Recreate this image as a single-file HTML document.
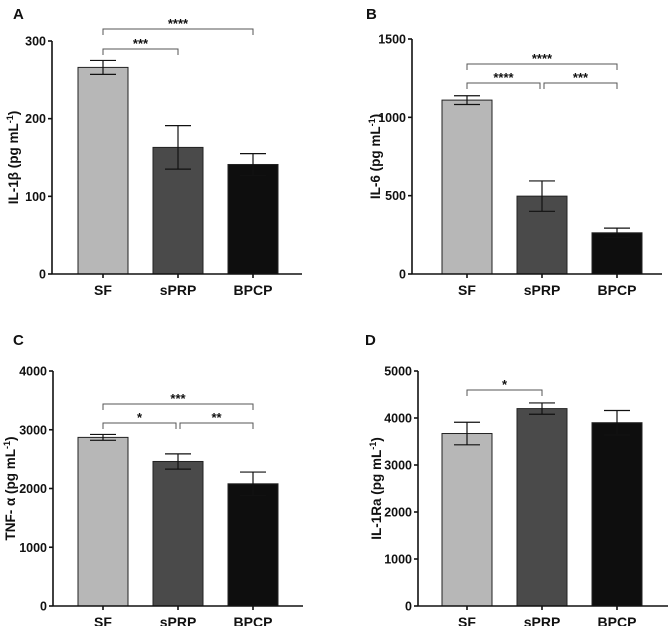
<!DOCTYPE html>
<html><head><meta charset="utf-8">
<style>
html,body{margin:0;padding:0;background:#fff;}
svg{display:block;font-family:"Liberation Sans",sans-serif;font-weight:bold;}
</style></head>
<body>
<svg id="fig" width="669" height="626" viewBox="0 0 669 626"></svg>
<script>
const categories = ["SF","sPRP","BPCP"];
const colors = ["#b7b7b7","#4a4a4a","#0e0e0e"];
const aValues = [266,163,141];
const aErrors = [9,28,14];
const aTicks = [0,100,200,300];
const bValues = [1110,497,263];
const bErrors = [28,97,30];
const bTicks = [0,500,1000,1500];
const cValues = [2870,2460,2080];
const cErrors = [50,130,200];
const cTicks = [0,1000,2000,3000,4000];
const dValues = [3670,4200,3900];
const dErrors = [240,120,260];
const dTicks = [0,1000,2000,3000,4000,5000];
const aSig = [[0,1,"***",1],[0,2,"****",0]];
const bSig = [[0,1,"****",1],[1,2,"***",1],[0,2,"****",0]];
const cSig = [[0,1,"*",1],[1,2,"**",1],[0,2,"***",0]];
const dSig = [[0,1,"*",0]];

const svg = document.getElementById('fig');
const NS = "http://www.w3.org/2000/svg";
function mk(tag, attrs, parent){
  const e = document.createElementNS(NS, tag);
  for (const k in attrs) e.setAttribute(k, attrs[k]);
  (parent||svg).appendChild(e);
  return e;
}
function panel(p){
  const g = mk('g', {});
  
  
  const ymax = p.ticks[p.ticks.length-1];
  const y = v => p.y0 - (v/ymax)*(p.y0 - p.yTop);
  const bx = i => p.barX0 + i*75;
  const cx = i => bx(i) + 25;
  const L = mk('text', {x:p.lx, y:p.ly, 'font-size':15, fill:'#111'}, g);
  L.textContent = p.letter;
  
  
  p.values.forEach((v,i)=>{
    const r = mk('rect', {x:bx(i), y:y(v), width:50, height:p.y0-y(v), fill:colors[i], stroke:'#222', 'stroke-width':1}, g);
    
    
    const e = p.errors[i];
    const eg = mk('g', {stroke:'#111','stroke-width':1.2}, g);
    
    
    mk('line', {x1:cx(i), x2:cx(i), y1:y(v+e), y2:y(v-e)}, eg);
    mk('line', {x1:cx(i)-13, x2:cx(i)+13, y1:y(v+e), y2:y(v+e)}, eg);
    mk('line', {x1:cx(i)-13, x2:cx(i)+13, y1:y(v-e), y2:y(v-e)}, eg);
    const t = mk('text', {x:cx(i), y:p.y0+21, 'font-size':14, 'text-anchor':'middle', fill:'#111'}, g);
    t.textContent = categories[i];
    
    
  });
  const ax = mk('g', {stroke:'#111','stroke-width':1.6}, g);
  
  
  mk('line', {x1:p.ax, x2:p.ax, y1:y(ymax), y2:p.y0}, ax);
  mk('line', {x1:p.ax, x2:p.ax+250, y1:p.y0, y2:p.y0}, ax);
  categories.forEach((c,i)=>mk('line', {x1:cx(i), x2:cx(i), y1:p.y0, y2:p.y0+4}, ax));
  p.ticks.forEach(tv=>{
    mk('line', {x1:p.ax-4, x2:p.ax, y1:y(tv), y2:y(tv)}, ax);
    const t = mk('text', {x:p.ax-6, y:y(tv)+4.5, 'font-size':12.5, 'text-anchor':'end', fill:'#111'}, g);
    t.textContent = tv;
    
    
  });
  const yt = mk('text', {x:0, y:0, 'font-size':13.5, 'text-anchor':'middle', fill:'#111', transform:`translate(${p.tx},${(p.y0+y(ymax))/2}) rotate(-90)`}, g);
  yt.innerHTML = p.title;
  
  
  p.sig.forEach(s=>{
    const ly = s[3] ? p.sigLow : p.sigHigh;
    const x1 = cx(s[0]) + (s[0]>0 ? 2 : 0), x2 = cx(s[1]) - (s[3] && s[1]-s[0]==1 && p.sig.length>2 && s[0]==0 ? 2 : 0);
    const sg = mk('g', {}, g);
    
    
    mk('path', {d:`M${x1},${ly+6}V${ly}H${x2}V${ly+6}`, fill:'none', stroke:'#555','stroke-width':1}, sg);
    const st = mk('text', {x:(x1+x2)/2, y:ly-1, 'font-size':13, 'text-anchor':'middle', fill:'#111'}, sg);
    st.textContent = s[2];
  });
}
panel({letter:'A', lx:13, ly:19, ax:52, barX0:78, y0:274, yTop:41, ticks:aTicks, values:aValues, errors:aErrors, sig:aSig, sigLow:49, sigHigh:29, tx:18, title:'IL-1β (pg mL<tspan dy="-5" font-size="9">-1</tspan><tspan dy="5">)</tspan>'});
panel({letter:'B', lx:366, ly:19, ax:412, barX0:442, y0:274, yTop:39, ticks:bTicks, values:bValues, errors:bErrors, sig:bSig, sigLow:83, sigHigh:64, tx:380, title:'IL-6 (pg mL<tspan dy="-5" font-size="9">-1</tspan><tspan dy="5">)</tspan>'});
panel({letter:'C', lx:13, ly:345, ax:53, barX0:78, y0:606, yTop:371, ticks:cTicks, values:cValues, errors:cErrors, sig:cSig, sigLow:423, sigHigh:404, tx:15, title:'TNF- α (pg mL<tspan dy="-5" font-size="9">-1</tspan><tspan dy="5">)</tspan>'});
panel({letter:'D', lx:365, ly:345, ax:418, barX0:442, y0:606, yTop:371, ticks:dTicks, values:dValues, errors:dErrors, sig:dSig, sigLow:390, sigHigh:390, tx:381, title:'IL-1Ra (pg mL<tspan dy="-5" font-size="9">-1</tspan><tspan dy="5">)</tspan>'});
</script>
</body></html>
